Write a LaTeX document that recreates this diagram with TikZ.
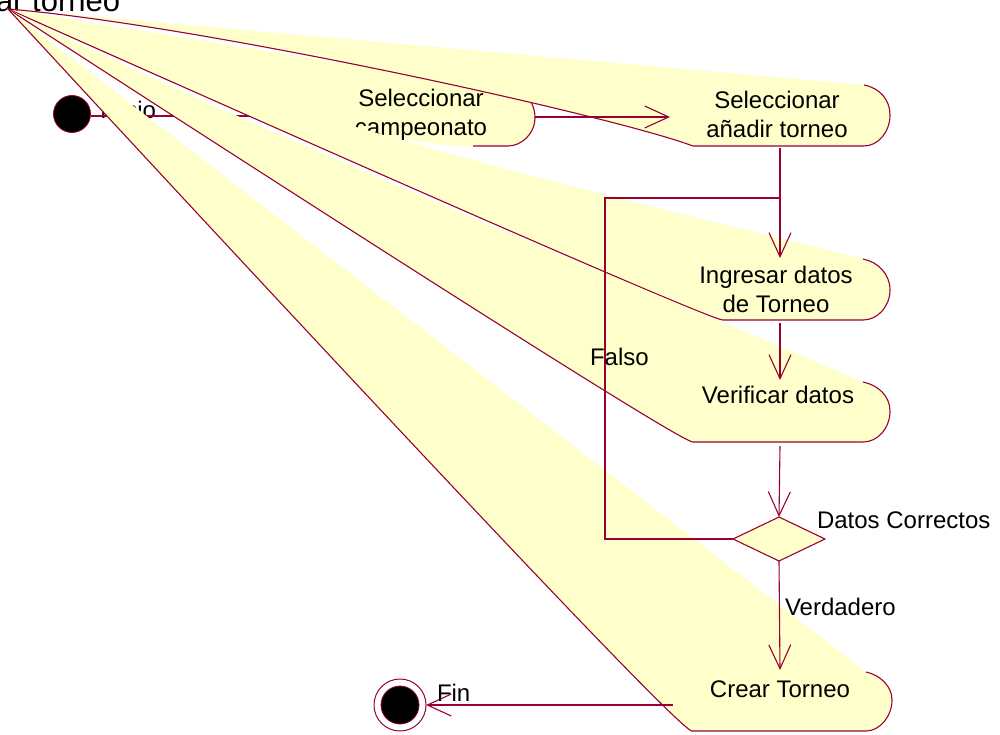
\documentclass[tikz,border=0pt]{standalone}
\usepackage{fontspec}
\setmainfont{Liberation Sans}
\usetikzlibrary{arrows.meta,shapes.geometric}
\definecolor{roseline}{RGB}{153,0,51}
\definecolor{rosefill}{RGB}{255,255,204}
\begin{document}
\begin{tikzpicture}[x=1pt,y=-1pt,
  every node/.style={inner sep=0pt,outer sep=0pt},
  lbl/.style={font=\fontsize{24}{29}\selectfont,anchor=base},
  fan/.style={fill=rosefill},
  edge/.style={draw=roseline,line width=1.1pt,line join=round},
  wire/.style={draw=roseline,line width=1.1pt},
  flow/.style={wire,-{Straight Barb[length=24pt,width=22pt,line width=1.1pt]}},
]
\useasboundingbox (0,0) rectangle (1000,734);
\coordinate (apex) at (8,9);

% title of the diagram
\node[font=\fontsize{31}{34}\selectfont,anchor=base west] (title) at (-4,11) {ar torneo};

% initial state
\node[circle,fill=black,draw=roseline,line width=0.8pt,minimum size=37pt] (ini) at (72,114) {};
\node[lbl,anchor=base west] (inil) at (100,118) {Inicio};
\coordinate (s1in) at (350,116);
\draw[flow] (ini.east |- s1in) -- (s1in);

% activity: Seleccionar campeonato
\path[fan] (apex) -- (520,92) .. controls (530,96) and (535,107) .. (535,118)
  .. controls (535,133) and (522,146) .. (508,146) -- (473,146)
  .. controls (400,148) and (250,105) .. (apex) -- cycle;
\draw[edge] (520,92) .. controls (530,96) and (535,107) .. (535,118)
  .. controls (535,133) and (522,146) .. (508,146) -- (473,146);
\node[lbl,align=center] (s1) at (421,135) {Seleccionar\\campeonato};

% activity: Seleccionar añadir torneo
\path[fan] (apex) -- (864,85) .. controls (880,88) and (890,100) .. (890,115)
  .. controls (890,132) and (878,146) .. (864,146) -- (693,146)
  .. controls (610,115) and (200,25) .. (apex) -- cycle;
\draw[edge] (864,85) .. controls (880,88) and (890,100) .. (890,115)
  .. controls (890,132) and (878,146) .. (864,146) -- (693,146)
  .. controls (610,115) and (200,25) .. (apex);
\node[lbl,align=center] (s2) at (777,137) {Seleccionar\\añadir torneo};

% activity: Ingresar datos de Torneo
\path[fan] (apex) .. controls (330,135) and (650,205) .. (863,259)
  .. controls (878,262) and (890,274) .. (890,290)
  .. controls (890,306) and (878,320) .. (863,320) -- (723,320)
  .. controls (705,320) and (apex) .. (apex) -- cycle;
\draw[edge] (863,259) .. controls (878,262) and (890,274) .. (890,290)
  .. controls (890,306) and (878,320) .. (863,320) -- (723,320)
  .. controls (705,320) and (apex) .. (apex);
\node[lbl,align=center] (s3) at (776,312) {Ingresar datos\\de Torneo};

% activity: Verificar datos
\path[fan] (apex) .. controls (250,130) and (650,290) .. (863,382)
  .. controls (878,385) and (890,396) .. (890,411)
  .. controls (890,428) and (878,442) .. (863,442) -- (693,442)
  .. controls (675,442) and (apex) .. (apex) -- cycle;
\draw[edge] (863,382) .. controls (878,385) and (890,396) .. (890,411)
  .. controls (890,428) and (878,442) .. (863,442) -- (693,442)
  .. controls (675,442) and (apex) .. (apex);
\node[lbl] (s4) at (778,403) {Verificar datos};

% activity: Crear Torneo
\path[fan] (apex) -- (866,672) .. controls (880,675) and (892,686) .. (892,700)
  .. controls (892,716) and (880,731) .. (866,731) -- (692,731)
  .. controls (674,731) and (apex) .. (apex) -- cycle;
\draw[edge] (866,672) .. controls (880,675) and (892,686) .. (892,700)
  .. controls (892,716) and (880,731) .. (866,731) -- (692,731)
  .. controls (674,731) and (apex) .. (apex);
\node[lbl] (s6) at (780,697) {Crear Torneo};

% decision
\node[diamond,draw=roseline,fill=rosefill,line width=1.1pt,minimum width=92pt,minimum height=44pt] (dia) at (779,539) {};

% final state
\node[circle,draw=roseline,fill=white,line width=1pt,minimum size=52pt] (fin) at (400,705) {};
\node[circle,fill=black,draw=roseline,line width=0.8pt,minimum size=38pt] (fincore) at (fin.center) {};

% transitions
\coordinate (s1e) at (535,117);
\coordinate (s2w) at (670,117);
\coordinate (s2s) at (780,148);
\coordinate (s3n) at (780,258);
\coordinate (s3s) at (780,323);
\coordinate (s4n) at (780,380);
\coordinate (s4s) at (780,446);
\coordinate (s6n) at (780,670);
\coordinate (s6w) at (673,705);
\coordinate (loopc) at (605,198);
\coordinate (loopj) at (780,198);
\draw[flow] (s1e) -- (s2w);
\draw[flow] (s2s) -- (s3n);
\draw[wire] (dia.west) -| (loopc) -- (loopj);
\draw[flow] (s3s) -- (s4n);
\draw[flow] (s4s) -- (dia.north);
\draw[flow] (dia.south) -- (s6n);
\draw[flow] (s6w) -- (fin.east);

% guard and state labels
\node[lbl,anchor=base west] (falso) at (590,365) {Falso};
\node[lbl,anchor=base west] (verd) at (785,615) {Verdadero};
\node[lbl,anchor=base west] (dial) at (817,528) {Datos Correctos};
\node[lbl,anchor=base west] (finl) at (437,701) {Fin};
\end{tikzpicture}
\end{document}
